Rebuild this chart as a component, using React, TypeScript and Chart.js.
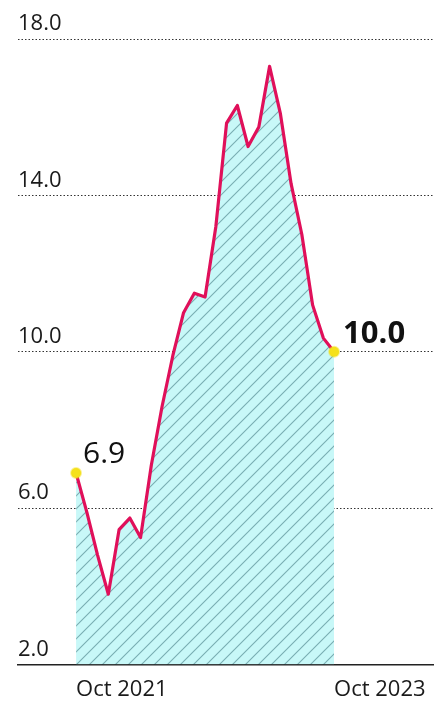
import React, { useEffect, useRef } from 'react';
import { Chart, registerables } from 'chart.js';

Chart.register(...registerables);

const months = [
  'Oct 2021', 'Nov 2021', 'Dec 2021', 'Jan 2022', 'Feb 2022', 'Mar 2022', 'Apr 2022',
  'May 2022', 'Jun 2022', 'Jul 2022', 'Aug 2022', 'Sep 2022', 'Oct 2022', 'Nov 2022',
  'Dec 2022', 'Jan 2023', 'Feb 2023', 'Mar 2023', 'Apr 2023', 'May 2023', 'Jun 2023',
  'Jul 2023', 'Aug 2023', 'Sep 2023', 'Oct 2023',
];

const rates = [
  6.9, 5.9, 4.8, 3.8, 5.45, 5.75, 5.25, 7.1, 8.6, 9.9, 11.0, 11.5, 11.4,
  13.2, 15.85, 16.3, 15.25, 15.75, 17.3, 16.1, 14.3, 13.0, 11.2, 10.35, 10.0,
];

const yTicks = [2, 6, 10, 14, 18];
const xTickLabels = ['Oct 2021', 'Oct 2023'];

const FONT = '"Open Sans", "DejaVu Sans", sans-serif';

function makePattern(): CanvasPattern | string {
  const s = 13;
  const c = document.createElement('canvas');
  c.width = s;
  c.height = s;
  const g = c.getContext('2d');
  if (!g) return '#c8f8f8';
  g.fillStyle = '#c8f8f8';
  g.fillRect(0, 0, s, s);
  g.strokeStyle = 'rgba(95,150,155,0.75)';
  g.lineWidth = 1.1;
  g.beginPath();
  g.moveTo(0, s);
  g.lineTo(s, 0);
  g.moveTo(-2, 2);
  g.lineTo(2, -2);
  g.moveTo(s - 2, s + 2);
  g.lineTo(s + 2, s - 2);
  g.stroke();
  const p = g.createPattern(c, 'repeat');
  return p || '#c8f8f8';
}

const endLabels = {
  id: 'endLabels',
  afterDatasetsDraw(chart: any) {
    const { ctx } = chart;
    const meta = chart.getDatasetMeta(0);
    const pts = meta.data;
    if (!pts.length) return;
    const first = pts[0];
    const last = pts[pts.length - 1];
    ctx.save();
    ctx.fillStyle = '#111';
    ctx.textBaseline = 'middle';
    ctx.textAlign = 'left';
    ctx.font = `400 30px ${FONT}`;
    ctx.fillText(rates[0].toFixed(1), first.x + 7, first.y - 19);
    ctx.font = `700 31px ${FONT}`;
    ctx.fillText(rates[rates.length - 1].toFixed(1), last.x + 9, last.y - 18);
    ctx.restore();
  },
};

export default function App() {
  const ref = useRef<HTMLCanvasElement | null>(null);

  useEffect(() => {
    if (!ref.current) return;
    const pattern = makePattern();
    const lastIdx = rates.length - 1;
    const chart = new Chart(ref.current, {
      type: 'line',
      data: {
        datasets: [
          {
            data: rates.map((v, i) => ({ x: i, y: v })),
            borderColor: '#e0105a',
            borderWidth: 3.2,
            borderJoinStyle: 'round',
            borderCapStyle: 'round',
            tension: 0,
            fill: 'start',
            backgroundColor: pattern as any,
            pointRadius: (c: any) => (c.dataIndex === 0 || c.dataIndex === lastIdx ? 5 : 0),
            pointHoverRadius: 0,
            pointBackgroundColor: '#f5e11c',
            pointBorderColor: 'rgba(245,225,28,0.45)',
            pointBorderWidth: 2,
          },
        ],
      },
      options: {
        animation: false,
        responsive: true,
        maintainAspectRatio: false,
        events: [],
        layout: { padding: { left: 18, right: 9, top: 39, bottom: -13 } },
        plugins: {
          legend: { display: false },
          tooltip: { enabled: false },
        },
        scales: {
          x: {
            type: 'linear',
            min: -5.4,
            max: 33.2,
            afterBuildTicks: (s: any) => {
              s.ticks = xTickLabels.map((l) => ({ value: months.indexOf(l) }));
            },
            grid: { display: false, drawTicks: false },
            border: { display: true, color: '#222', width: 1.5 },
            ticks: {
              align: 'start',
              maxRotation: 0,
              minRotation: 0,
              autoSkip: false,
              padding: 12,
              color: '#1a1a1a',
              font: { family: FONT, size: 22 },
              callback: (v: any) => months[Number(v)] ?? '',
            },
          },
          y: {
            min: 2,
            max: 18,
            afterBuildTicks: (s: any) => {
              s.ticks = yTicks.map((v) => ({ value: v }));
            },
            grid: { color: '#333', lineWidth: 1, drawTicks: false },
            border: { display: false, dash: [1.5, 2] },
            ticks: {
              mirror: true,
              padding: 0,
              labelOffset: -15,
              color: '#1a1a1a',
              font: { family: FONT, size: 22 },
              callback: (v: any) => Number(v).toFixed(1),
            },
          },
        },
      },
      plugins: [endLabels],
    });
    return () => chart.destroy();
  }, []);

  return (
    <div style={{ position: 'absolute', left: 0, top: 0, width: 442, height: 702, background: '#fff' }}>
      <canvas ref={ref} />
    </div>
  );
}
